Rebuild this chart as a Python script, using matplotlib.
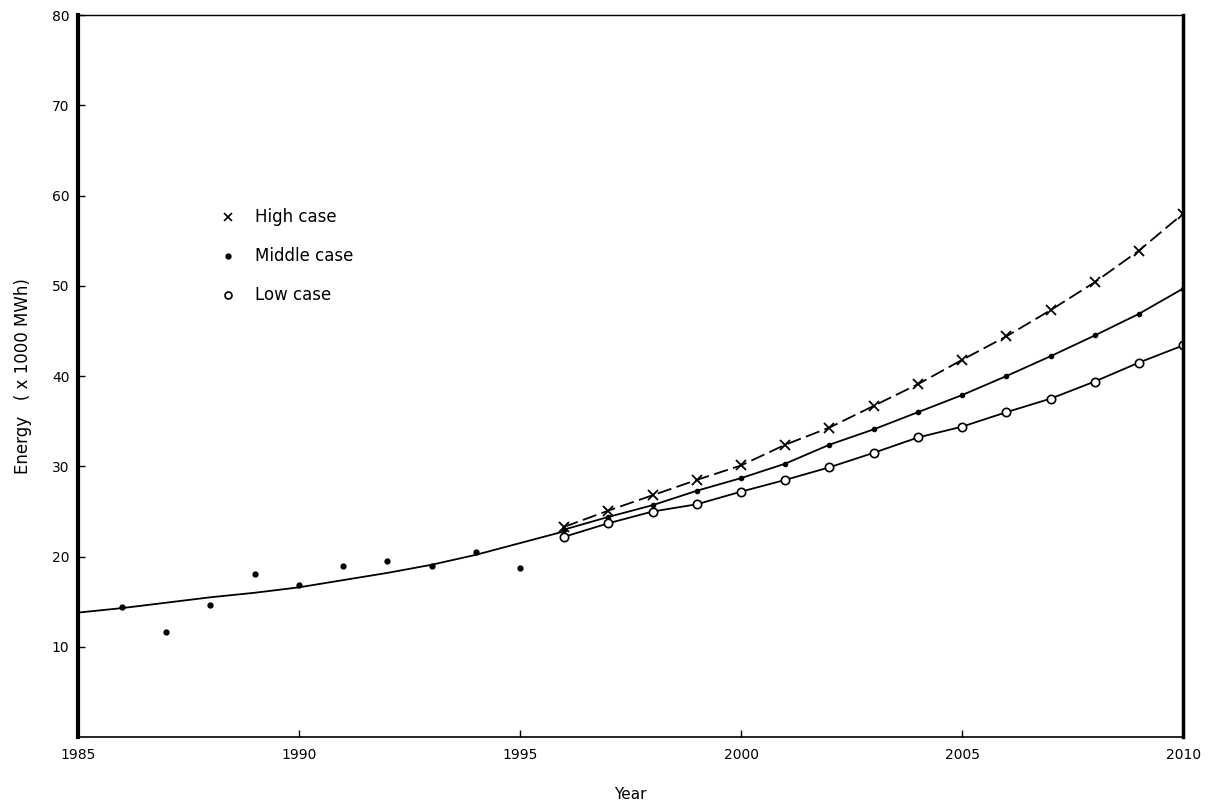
import matplotlib.pyplot as plt

# observed energy (x 1000 MWh)
obs_years = [1986, 1987, 1988, 1989, 1990, 1991, 1992, 1993, 1994, 1995]
obs_energy = [14.4, 11.6, 14.6, 18.1, 16.9, 19.0, 19.5, 19.0, 20.5, 18.7]

# fitted trend up to the start of the projections
trend_years = [1985, 1986, 1987, 1988, 1989, 1990, 1991, 1992, 1993, 1994, 1995, 1996]
trend_energy = [13.8, 14.3, 14.9, 15.5, 16.0, 16.6, 17.4, 18.2, 19.1, 20.2, 21.5, 22.8]

# projections
proj_years = list(range(1996, 2011))
high_case = [23.3, 25.1, 26.8, 28.5, 30.1, 32.4, 34.3, 36.7, 39.1, 41.8, 44.4, 47.3, 50.4, 53.9, 58.0]
middle_case = [23.0, 24.4, 25.7, 27.3, 28.7, 30.3, 32.4, 34.1, 36.0, 37.9, 40.0, 42.2, 44.5, 46.9, 49.7]
low_case = [22.2, 23.7, 25.0, 25.8, 27.2, 28.5, 29.9, 31.5, 33.2, 34.4, 36.0, 37.5, 39.4, 41.5, 43.4]

fig = plt.figure(figsize=(12.16, 8.11), dpi=100)
ax = fig.add_axes([0.064, 0.091, 0.909, 0.8905])

ax.plot(trend_years, trend_energy, color='black', lw=1.3)
ax.plot(obs_years, obs_energy, 'o', color='black', ms=3.5)

ax.plot(proj_years, high_case, color='black', lw=1.3, ls=(0, (8, 3)),
        marker='x', ms=7, mew=1.3)
ax.plot(proj_years, middle_case, color='black', lw=1.3,
        marker='o', ms=3)
ax.plot(proj_years, low_case, color='black', lw=1.3,
        marker='o', ms=6, mfc='white', mew=1.2)

# legend drawn as plain text like in the original
legend_items = [('x', 'white', 'High case'), ('o', 'black', 'Middle case'), ('o', 'white', 'Low case')]
for i, (mk, fc, label) in enumerate(legend_items):
    y = 57.6 - i * 4.3
    if mk == 'x':
        ax.plot(1988.40, y, 'x', color='black', ms=6, mew=1.2)
    elif fc == 'black':
        ax.plot(1988.40, y, 'o', color='black', ms=3.5)
    else:
        ax.plot(1988.40, y, 'o', color='black', ms=5, mfc='white', mew=1.2)
    ax.text(1989.0, y, label, fontsize=12, va='center', ha='left')

ax.set_xlim(1985, 2010)
ax.set_ylim(0, 80)
ax.set_xticks([1985, 1990, 1995, 2000, 2005, 2010])
ax.set_yticks([10, 20, 30, 40, 50, 60, 70, 80])
ax.tick_params(direction='in', length=5, width=1, labelsize=10)
ax.tick_params(axis='x', pad=8)
ax.tick_params(axis='y', pad=6)

ax.spines['left'].set_linewidth(3)
ax.spines['right'].set_linewidth(2.5)
ax.spines['top'].set_linewidth(1)
ax.spines['bottom'].set_linewidth(1.2)

ax.set_xlabel('Year', fontsize=11, labelpad=18)
ax.set_ylabel('Energy   ( x 1000 MWh)', fontsize=12, labelpad=14)

fig.savefig('out.png', dpi=100)
